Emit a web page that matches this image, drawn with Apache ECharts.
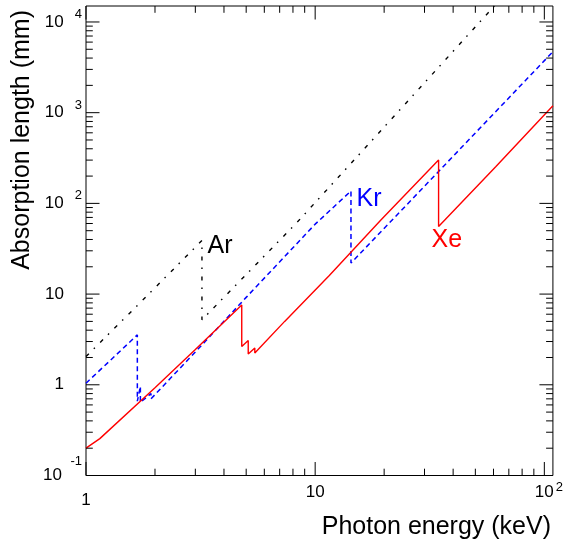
<!DOCTYPE html>
<html>
<head>
<meta charset="utf-8">
<script src="https://cdn.jsdelivr.net/npm/echarts@6/dist/echarts.min.js"></script>
<style>
  html, body { margin: 0; padding: 0; background: #fff; }
  #chart { width: 566px; height: 544px; }
</style>
</head>
<body>
<div id="chart"></div>
<script>
// photon energy (keV) / absorption length (mm)
var arEnergy = [1.0, 1.72, 3.206, 3.206, 8.28, 17.8, 50.2, 70];
var arLength = [2.05, 8.0, 39, 5.2, 60.6, 502, 8930, 22500];

var krEnergy = [1.0, 1.675, 1.675, 1.727, 1.727, 1.921, 1.921, 3.0, 5.0, 10.0, 14.33, 14.33, 28.5, 109];
var krLength = [1.04, 3.55, 0.66, 0.96, 0.64, 0.80, 0.70, 2.3, 9.2, 59, 137, 22, 135, 4700];

var xeEnergy = [1.0, 1.149, 1.149, 2.0, 3.0, 4.782, 4.782, 5.104, 5.104, 5.453, 5.453, 7.36, 11.5, 19.4, 34.56, 34.56, 61.5, 109];
var xeLength = [0.20, 0.255, 0.245, 0.93, 2.45, 7.6, 2.64, 3.08, 2.18, 2.54, 2.24, 5.0, 15.9, 66, 300, 55.6, 255, 1190];

// tick positions
var xTicks = [1, 2, 3, 4, 5, 6, 7, 8, 9, 10, 20, 30, 40, 50, 60, 70, 80, 90, 100];
var yTicks = [0.1, 0.2, 0.3, 0.4, 0.5, 0.6, 0.7, 0.8, 0.9,
  1, 2, 3, 4, 5, 6, 7, 8, 9,
  10, 20, 30, 40, 50, 60, 70, 80, 90,
  100, 200, 300, 400, 500, 600, 700, 800, 900,
  1000, 2000, 3000, 4000, 5000, 6000, 7000, 8000, 9000, 10000];

var FONT = "'Liberation Sans', Arial, Helvetica, sans-serif";

function zip(a, b) {
  var out = [];
  for (var i = 0; i < a.length; i++) out.push([a[i], b[i]]);
  return out;
}

function decade(v) {
  var l = Math.log10(v);
  var r = Math.round(l);
  return Math.abs(l - r) < 1e-6 ? r : null;
}

// tick marks on all four sides of the frame
function tickSeries(values, isX) {
  return {
    type: 'custom',
    silent: true,
    z: 5,
    data: values.map(function (v) { return isX ? [v, 1] : [1, v]; }),
    encode: { x: 0, y: 1 },
    renderItem: function (params, api) {
      var cs = params.coordSys;
      var v = api.value(isX ? 0 : 1);
      var len = decade(v) !== null ? 13.5 : 6.8;
      var p = api.coord([api.value(0), api.value(1)]);
      var st = { stroke: '#000', lineWidth: 1 };
      if (isX) {
        var x = p[0];
        var b = cs.y + cs.height, t = cs.y;
        return { type: 'group', children: [
          { type: 'line', shape: { x1: x, y1: b, x2: x, y2: b - len }, style: st },
          { type: 'line', shape: { x1: x, y1: t, x2: x, y2: t + len }, style: st }
        ] };
      }
      var y = p[1];
      var l = cs.x, r = cs.x + cs.width;
      return { type: 'group', children: [
        { type: 'line', shape: { x1: l, y1: y, x2: l + len, y2: y }, style: st },
        { type: 'line', shape: { x1: r, y1: y, x2: r - len, y2: y }, style: st }
      ] };
    }
  };
}

var myChart = echarts.init(document.getElementById('chart'));

var option = {
  animation: false,
  backgroundColor: '#fff',
  grid: {
    left: 86, right: 12, top: 6, bottom: 68.5,
    show: true, borderColor: '#000', borderWidth: 1
  },
  xAxis: {
    type: 'log',
    logBase: 10,
    min: 1,
    max: 109,
    axisLine: { show: false },
    axisTick: { show: false },
    splitLine: { show: false },
    minorTick: { show: false },
    axisLabel: {
      margin: 6.5,
      color: '#000',
      fontFamily: FONT,
      formatter: function (v) {
        var d = decade(v);
        if (d === null) return '';
        if (d === 0) return '{q|1}';
        if (d === 1) return '{b|10}';
        return '{bb|10}{s|' + d + '}';
      },
      rich: {
        q: { fontSize: 17, fontFamily: FONT, lineHeight: 20, padding: [17, 0, 0, 0] },
        b: { fontSize: 17, fontFamily: FONT, lineHeight: 20 },
        bb: { fontSize: 17, fontFamily: FONT, lineHeight: 20, padding: [0, 0, 0, 9.2] },
        s: { fontSize: 13, fontFamily: FONT, lineHeight: 20, padding: [0, 0, 9, 2] }
      }
    }
  },
  yAxis: {
    type: 'log',
    logBase: 10,
    min: 0.1,
    max: 15000,
    axisLine: { show: false },
    axisTick: { show: false },
    splitLine: { show: false },
    minorTick: { show: false },
    axisLabel: {
      margin: 4,
      color: '#000',
      fontFamily: FONT,
      formatter: function (v) {
        var d = decade(v);
        if (d === null) return '';
        if (d === 0) return '{p|1}';
        if (d === 1) return '{p|10}';
        if (d < 0) return '{b|10}{n|' + d + '}';
        return '{b|10}{s|' + d + '}';
      },
      rich: {
        p: { fontSize: 17, fontFamily: FONT, lineHeight: 20, padding: [0, 18, 0, 0] },
        b: { fontSize: 17, fontFamily: FONT, lineHeight: 20 },
        s: { fontSize: 13, fontFamily: FONT, lineHeight: 20, padding: [0, 0, 15, 11] },
        n: { fontSize: 13, fontFamily: FONT, lineHeight: 20, padding: [0, 0, 28, 8.5] }
      }
    }
  },
  graphic: [
    { type: 'text', x: 551, y: 527, z: 10,
      style: { text: 'Photon energy (keV)', fontSize: 25, fontFamily: FONT, fill: '#000',
        align: 'right', textAlign: 'right', verticalAlign: 'middle', textVerticalAlign: 'middle' } },
    { type: 'text', x: 22.5, y: 10, rotation: Math.PI / 2, z: 10,
      style: { text: 'Absorption length (mm)', fontSize: 25, fontFamily: FONT, fill: '#000',
        align: 'right', textAlign: 'right', verticalAlign: 'middle', textVerticalAlign: 'middle' } },
    { type: 'text', x: 207.5, y: 246, z: 10,
      style: { text: 'Ar', fontSize: 25, fontFamily: FONT, fill: '#000',
        align: 'left', textAlign: 'left', verticalAlign: 'middle', textVerticalAlign: 'middle' } },
    { type: 'text', x: 356.5, y: 199.5, z: 10,
      style: { text: 'Kr', fontSize: 25, fontFamily: FONT, fill: '#0000ff',
        align: 'left', textAlign: 'left', verticalAlign: 'middle', textVerticalAlign: 'middle' } },
    { type: 'text', x: 431.5, y: 240, z: 10,
      style: { text: 'Xe', fontSize: 25, fontFamily: FONT, fill: '#ff0000',
        align: 'left', textAlign: 'left', verticalAlign: 'middle', textVerticalAlign: 'middle' } }
  ],
  series: [
    {
      name: 'Ar', type: 'line', data: zip(arEnergy, arLength),
      showSymbol: false, symbol: 'none', clip: true,
      lineStyle: { color: '#000', width: 1.4, type: [4, 7, 1.5, 7.5] }
    },
    {
      name: 'Kr', type: 'line', data: zip(krEnergy, krLength),
      showSymbol: false, symbol: 'none', clip: true,
      lineStyle: { color: '#0000ff', width: 1.5, type: [5, 3.5] }
    },
    {
      name: 'Xe', type: 'line', data: zip(xeEnergy, xeLength),
      showSymbol: false, symbol: 'none', clip: true,
      lineStyle: { color: '#ff0000', width: 1.4, type: 'solid' }
    },
    tickSeries(xTicks, true),
    tickSeries(yTicks, false)
  ]
};

myChart.setOption(option);
</script>
</body>
</html>
